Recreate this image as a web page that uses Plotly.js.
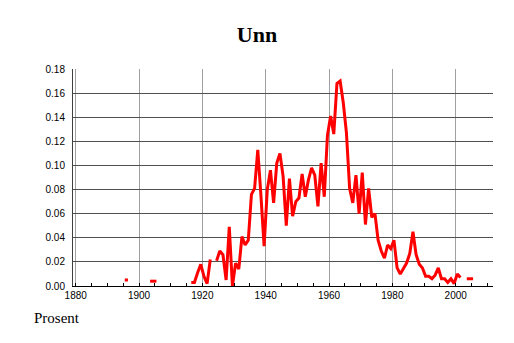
<!DOCTYPE html>
<html>
<head>
<meta charset="utf-8">
<script src="https://cdn.plot.ly/plotly-3.0.1.min.js"></script>
<style>
  html, body { margin: 0; padding: 0; background: #fff; }
  #chart { width: 514px; height: 343px; }
</style>
</head>
<body>
<div id="chart"></div>
<script>
// Years covered by the series (first to last recorded year)
const startYear = 1896;
const endYear = 2006;

// Share (per cent) of people with the name, one value per year; null = no data
const shareValues = [
  0.005, 0.005,                                   // 1896-1897
  null, null, null, null, null, null,             // 1898-1903
  0.004, 0.004, 0.004,                            // 1904-1906
  null, null, null, null, null, null, null, null, null, null, // 1907-1916
  0.003, 0.003, 0.011, 0.018, 0.008, 0.002, 0.022, // 1917-1923
  null,                                           // 1924
  0.021, 0.029, 0.026, 0.005, 0.049,              // 1925-1929
  0.000, 0.019, 0.014, 0.041, 0.034, 0.038, 0.076, 0.081, 0.113, 0.075, // 1930-1939
  0.033, 0.080, 0.096, 0.069, 0.102, 0.110, 0.091, 0.050, 0.089, 0.058, // 1940-1949
  0.070, 0.073, 0.093, 0.074, 0.088, 0.098, 0.092, 0.066, 0.102, 0.074, // 1950-1959
  0.125, 0.141, 0.126, 0.168, 0.170, 0.152, 0.127, 0.081, 0.069, 0.092, // 1960-1969
  0.060, 0.094, 0.051, 0.081, 0.057, 0.060, 0.038, 0.029, 0.023, 0.034, // 1970-1979
  0.031, 0.038, 0.015, 0.010, 0.015, 0.019, 0.027, 0.045, 0.026, 0.018, // 1980-1989
  0.015, 0.008, 0.008, 0.006, 0.009, 0.015, 0.006, 0.006, 0.003, 0.006, // 1990-1999
  0.002, 0.010, 0.007, null, 0.006, 0.006, 0.006  // 2000-2006
];

const years = [];
for (let y = startYear; y <= endYear; y++) years.push(y);

const chartTitle = 'Unn';
const unitLabel = 'Prosent';

// each yearly value is drawn centred on its year interval
const xPos = years.map(y => y - 0.5);

const trace = {
  type: 'scatter',
  mode: 'lines',
  x: xPos,
  y: shareValues,
  connectgaps: false,
  line: { color: '#ff0000', width: 3 },
  hoverinfo: 'x+y',
  showlegend: false
};

const layout = {
  width: 514,
  height: 343,
  margin: { l: 73, r: 21, t: 69, b: 57, pad: 0 },
  paper_bgcolor: '#ffffff',
  plot_bgcolor: '#ffffff',
  showlegend: false,
  title: {
    text: '<b>' + chartTitle + '</b>',
    font: { family: 'Liberation Serif, Times New Roman, serif', size: 22, color: '#000' },
    xref: 'container', x: 0.5, xanchor: 'center',
    yref: 'container', y: 1 - 34 / 343, yanchor: 'middle'
  },
  xaxis: {
    range: [1879.15, 2011.78],
    tick0: 1880,
    dtick: 20,
    ticks: 'inside',
    ticklen: 3,
    tickcolor: '#000',
    showgrid: true,
    gridcolor: '#a0a0a0',
    gridwidth: 1,
    zeroline: false,
    showline: true,
    linecolor: '#000',
    linewidth: 1,
    tickfont: { family: 'Liberation Sans, Arial, sans-serif', size: 10, color: '#000' },
    minor: { dtick: 5, tick0: 1880, ticks: 'inside', ticklen: 3, tickcolor: '#000', showgrid: false },
    fixedrange: true
  },
  yaxis: {
    range: [0, 0.18],
    dtick: 0.02,
    tick0: 0,
    tickformat: '.2f',
    ticks: '',
    ticklabelstandoff: 5,
    showgrid: true,
    gridcolor: '#505050',
    gridwidth: 1,
    zeroline: false,
    showline: true,
    linecolor: '#404040',
    linewidth: 1,
    tickfont: { family: 'Liberation Sans, Arial, sans-serif', size: 10, color: '#000' },
    fixedrange: true
  },
  annotations: [{
    text: unitLabel,
    xref: 'paper', yref: 'paper',
    x: -41 / 420, xanchor: 'left',
    y: -32 / 217, yanchor: 'middle',
    showarrow: false,
    font: { family: 'Liberation Serif, Times New Roman, serif', size: 15, color: '#000' }
  }]
};

Plotly.newPlot('chart', [trace], layout, { displayModeBar: false, staticPlot: true });
</script>
</body>
</html>
